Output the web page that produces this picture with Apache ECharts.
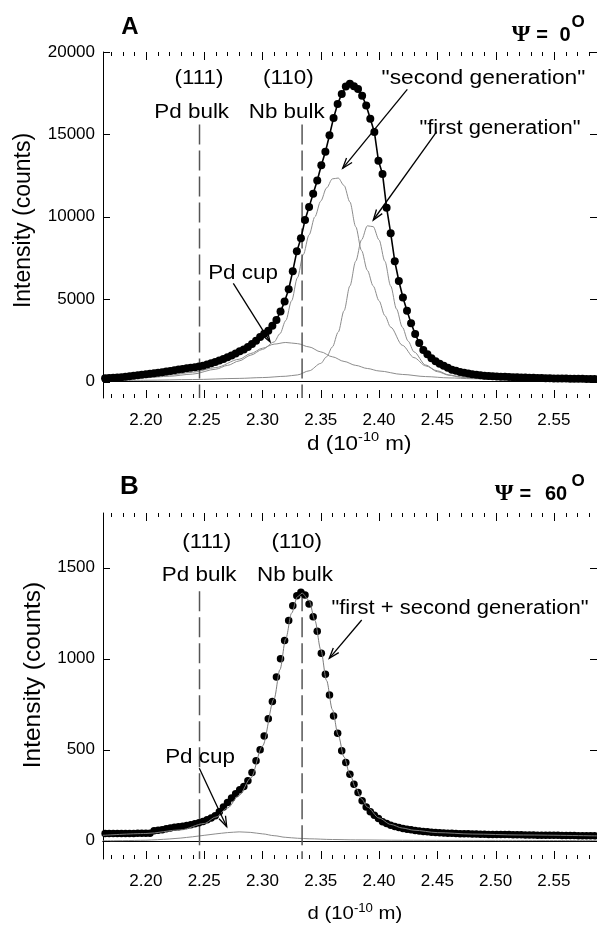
<!DOCTYPE html>
<html><head><meta charset="utf-8">
<script src="https://cdn.jsdelivr.net/npm/echarts@6/dist/echarts.min.js"></script>
<style>html,body{margin:0;padding:0;background:#fff}#c{width:597px;height:925px}</style>
</head><body><div id="c"></div>
<script>
// ---------------- data ----------------
const dGrid = [2.165,2.1685,2.172,2.1755,2.179,2.1825,2.186,2.1895,2.193,2.1965,
2.2,2.2035,2.207,2.2105,2.214,2.2175,2.221,2.2245,2.228,2.2315,
2.235,2.2385,2.242,2.2455,2.249,2.2525,2.256,2.2595,2.263,2.2665,
2.27,2.2735,2.277,2.2805,2.284,2.2875,2.291,2.2945,2.298,2.3015,
2.305,2.3085,2.312,2.3155,2.319,2.3225,2.326,2.3295,2.333,2.3365,
2.34,2.3435,2.347,2.3505,2.354,2.3575,2.361,2.3645,2.368,2.3715,
2.375,2.3785,2.382,2.3855,2.389,2.3925,2.396,2.3995,2.403,2.4065,
2.41,2.4135,2.417,2.4205,2.424,2.4275,2.431,2.4345,2.438,2.4415,
2.445,2.4485,2.452,2.4555,2.459,2.4625,2.466,2.4695,2.473,2.4765,
2.48,2.4835,2.487,2.4905,2.494,2.4975,2.501,2.5045,2.508,2.5115,
2.515,2.5185,2.522,2.5255,2.529,2.5325,2.536,2.5395,2.543,2.5465,
2.55,2.5535,2.557,2.5605,2.564,2.5675,2.571,2.5745,2.578,2.5815,2.585];

const intensityTop = [200,210,225,240,260,285,315,345,380,415,
445,467,500,535,570,606,645,690,725,765,
800,835,870,905,960,1030,1110,1190,1280,1370,
1480,1580,1700,1830,1950,2100,2270,2480,2700,2900,
3080,3380,3740,4250,4850,5600,6700,7900,8700,9800,
10600,11400,12200,13130,13940,14950,16000,16850,17450,17900,
18080,17920,17750,17350,16750,15950,15150,13400,12600,10550,
9000,7300,6100,5100,4300,3540,2890,2340,1920,1660,
1420,1230,1080,960,830,720,650,580,530,480,
440,410,380,355,335,320,305,295,285,275,
265,255,245,238,230,222,215,208,202,196,
190,185,180,176,172,168,165,162,158,155,152];

const intensityBottom = [40,40,40,40,40,40,40,40,41,41,
41,42,55,58,61,66,70,74,77,80,
84,88,93,99,106,115,125,137,160,185,
210,235,258,280,298,330,375,440,500,575,
670,765,900,1000,1100,1210,1290,1345,1365,1350,
1300,1230,1150,1030,915,800,685,590,495,430,
365,310,265,220,186,160,140,122,105,95,
86,79,73,68,64,60,57,54,51,49,
47,45,44,43,42,41,40,39,38,38,
37,37,36,36,35,35,35,34,34,34,
33,33,33,32,32,32,31,31,31,30,
30,30,29,29,29,29,28,28,28,28,27];

// fitted components, panel A (Psi = 0)
const pdCupTopD = [2.163,2.18,2.20,2.22,2.24,2.26,2.28,2.29,2.30,2.31,2.32,2.33,2.34,2.35,2.36,2.37,2.38,2.39,2.40,2.42,2.44,2.46,2.48,2.50,2.54,2.587];
const pdCupTopI = [190,230,290,390,560,850,1350,1700,2020,2270,2370,2300,2100,1800,1500,1220,980,790,640,430,300,220,170,140,110,90];

const secondGenD = [2.163,2.20,2.22,2.24,2.26,2.27,2.28,2.29,2.30,2.31,2.315,2.32,2.325,2.33,2.335,2.34,2.345,2.35,2.355,2.36,2.365,2.37,2.375,2.38,2.385,2.39,2.395,2.40,2.405,2.41,2.42,2.43,2.44,2.45,2.46,2.47,2.48,2.50,2.53,2.587];
const secondGenI = [150,230,320,450,750,980,1250,1600,1950,2400,2900,3700,4900,6300,7700,8900,10000,10950,11750,12300,12350,11900,10900,9400,7950,6750,5800,4900,4000,3300,2200,1450,950,650,400,290,230,160,120,90];

const firstGenD = [2.163,2.20,2.24,2.28,2.30,2.32,2.33,2.34,2.35,2.355,2.36,2.365,2.37,2.375,2.38,2.385,2.39,2.395,2.40,2.405,2.41,2.415,2.42,2.425,2.43,2.44,2.45,2.46,2.47,2.48,2.50,2.53,2.587];
const firstGenI = [60,80,120,190,240,320,400,650,1100,1500,2100,3000,4300,5800,7300,8600,9450,9400,8600,7300,5800,4400,3300,2450,1800,1000,600,380,260,200,140,110,90];

// fitted components, panel B (Psi = 60)
const fitBottomD = [2.163,2.20,2.23,2.25,2.26,2.27,2.28,2.29,2.30,2.31,2.315,2.32,2.325,2.33,2.334,2.34,2.345,2.35,2.355,2.36,2.365,2.37,2.375,2.38,2.385,2.39,2.40,2.41,2.42,2.43,2.45,2.48,2.52,2.587];
const fitBottomI = [30,40,60,95,130,180,250,345,520,780,940,1110,1250,1340,1360,1320,1210,1050,880,720,580,460,365,290,230,185,125,90,70,58,45,37,32,27];

const pdCupBottomD = [2.163,2.18,2.20,2.21,2.22,2.23,2.24,2.25,2.26,2.27,2.28,2.29,2.30,2.31,2.32,2.33,2.34,2.36,2.38,2.42,2.50,2.587];
const pdCupBottomI = [0,1,3,6,10,15,22,30,38,45,49,46,38,28,19,14,11,7,5,3,2,1];

// reference d-spacings (dashed lines)
const pdBulkD = 2.246;
const nbBulkD = 2.334;
const refTopFrom = 15600, refTopTo = -1000;
const refBotFrom = 1370, refBotTo = -100;

// ticks and tick labels
const xMajorTicks = [2.20,2.25,2.30,2.35,2.40,2.45,2.50,2.55];
const xMinorTicks = [2.17,2.18,2.19,2.21,2.22,2.23,2.24,2.26,2.27,2.28,2.29,2.31,2.32,2.33,2.34,2.36,2.37,2.38,2.39,2.41,2.42,2.43,2.44,2.46,2.47,2.48,2.49,2.51,2.52,2.53,2.54,2.56,2.57,2.58];
const yTicksTop = [0,5000,10000,15000,20000];
const yTicksBottom = [0,500,1000,1500];

// ---------------- chart ----------------
const SANS = '"Liberation Sans", Arial, Helvetica, sans-serif';
const SERIF = '"Liberation Serif", "Times New Roman", serif';
const X_MIN = 2.1632, X_MAX = 2.587;
const zip = (d, v) => d.map((x, i) => [x, v[i]]);

function xAxesFor(gi) {
  const base = {type:'value', gridIndex:gi, min:X_MIN, max:X_MAX, splitLine:{show:false}, scale:true, axisTick:{show:false}};
  const line = {show:true, lineStyle:{color:'#000', width:1}};
  return [
    Object.assign({}, base, {position:'bottom', axisLine:line,
      axisLabel:{show:true, customValues:xMajorTicks, formatter:v => Number(v).toFixed(2), fontSize:17, fontFamily:SANS, color:'#000', margin:14}}),
    Object.assign({}, base, {position:'top', axisLine:line, axisLabel:{show:false}})
  ];
}
function yAxesFor(gi, min, max, ticks) {
  const line = {show:true, lineStyle:{color:'#000', width:1}};
  return [
    {type:'value', gridIndex:gi, min, max, position:'left', splitLine:{show:false}, axisLine:line, axisTick:{show:false},
     axisLabel:{show:true, customValues:ticks, formatter:v => String(v), fontSize:17, fontFamily:SANS, color:'#000', margin:8}},
    {type:'value', gridIndex:gi, min, max, position:'right', splitLine:{show:false}, axisLine:line, axisTick:{show:false},
     axisLabel:{show:false}}
  ];
}
function curve(xi, yi, d, v, color, width, z) {
  return {type:'line', xAxisIndex:xi, yAxisIndex:yi, data:zip(d, v), symbol:'none', smooth:0.3, smoothMonotone:'x',
          lineStyle:{color, width}, z, silent:true};
}
function refLine(xi, yi, d, from, to) {
  return {type:'line', xAxisIndex:xi, yAxisIndex:yi, data:[[d, from],[d, to]], symbol:'none',
          lineStyle:{color:'#555', width:1.5, type:[20,6]}, z:3, silent:true};
}

// text helpers
function T(x, y, text, size, o) {
  o = o || {};
  const al = o.align || 'center';
  const font = (o.bold ? 'bold ' : '') + size + 'px ' + (o.family || SANS);
  return {type:'text', x, y, scaleX:o.sx || 1, rotation:o.rot || 0, z:100,
    style:{text, fill:'#000', font, textAlign:al, textVerticalAlign:'middle', align:al, verticalAlign:'middle'}};
}
const mctx = document.createElement('canvas').getContext('2d');
function tw(text, font) { mctx.font = font; return mctx.measureText(text).width; }
function supTitle(x, y, size, supSize, dy, sx) {
  const f1 = size + 'px ' + SANS, f2 = supSize + 'px ' + SANS;
  const a = 'd (10', b = '-10', c = ' m)';
  const w1 = tw(a, f1), w2 = tw(b, f2);
  const st = (text, font) => ({text, font, fill:'#000', textAlign:'left', textVerticalAlign:'middle', align:'left', verticalAlign:'middle'});
  return {type:'group', x, y, scaleX:sx, z:100, children:[
    {type:'text', x:0, y:0, style:st(a, f1)},
    {type:'text', x:w1, y:dy, style:st(b, f2)},
    {type:'text', x:w1 + w2, y:0, style:st(c, f1)}
  ]};
}
function arrow(x1, y1, x2, y2) {
  const a = Math.atan2(y2 - y1, x2 - x1), L = 11, w = 0.33;
  const p1 = [x2 - L * Math.cos(a - w), y2 - L * Math.sin(a - w)];
  const p2 = [x2 - L * Math.cos(a + w), y2 - L * Math.sin(a + w)];
  return [
    {type:'line', z:100, shape:{x1, y1, x2, y2}, style:{stroke:'#000', lineWidth:1.3}},
    {type:'polyline', z:100, shape:{points:[p1, [x2, y2], p2]}, style:{stroke:'#000', fill:null, lineWidth:1.3}}
  ];
}

const chart = echarts.init(document.getElementById('c'), null, {renderer:'canvas', width:597, height:925});

const GRAY = '#8c8c8c';
const texts = [].concat(
  [
    T(130, 27.3, 'A', 24, {bold:true}),
    T(129.5, 487, 'B', 26, {bold:true}),
    T(521, 34.5, 'Ψ', 24, {bold:true, family:SERIF}),
    T(542, 35.7, '=', 20, {bold:true}),
    T(565, 35.7, '0', 20, {bold:true}),
    T(578, 22, 'O', 17, {bold:true}),
    T(504, 494, 'Ψ', 24, {bold:true, family:SERIF}),
    T(525.3, 494.7, '=', 20, {bold:true}),
    T(556, 494.7, '60', 20, {bold:true}),
    T(578, 481, 'O', 17, {bold:true}),
    T(199, 78, '(111)', 20, {sx:1.12}),
    T(191.7, 112, 'Pd bulk', 20, {sx:1.12}),
    T(288.3, 78, '(110)', 20, {sx:1.12}),
    T(286.7, 112, 'Nb bulk', 20, {sx:1.12}),
    T(483.5, 78, '"second generation"', 20, {sx:1.14}),
    T(500, 128, '"first generation"', 20, {sx:1.1}),
    T(243, 273, 'Pd cup', 20, {sx:1.12}),
    T(206.7, 542, '(111)', 20, {sx:1.12}),
    T(199.2, 575, 'Pd bulk', 20, {sx:1.12}),
    T(296.7, 542, '(110)', 20, {sx:1.12}),
    T(295, 575, 'Nb bulk', 20, {sx:1.12}),
    T(460, 608, '"first + second generation"', 20, {sx:1.1}),
    T(200, 757, 'Pd cup', 20, {sx:1.12}),
    T(24, 220.5, 'Intensity (counts)', 23, {rot:Math.PI / 2}),
    T(33, 675, 'Intensity (counts)', 24.5, {rot:Math.PI / 2}),
    supTitle(307, 444.5, 20, 13, -7.3, 1.12),
    supTitle(307.5, 914.3, 18.5, 12, -5.3, 1.1)
  ],
  arrow(407.3, 89.3, 342.7, 168.3),
  arrow(436.7, 131.7, 373.3, 220),
  arrow(233.3, 283.3, 270, 341.7),
  arrow(361.7, 620, 329.3, 658.3),
  arrow(199.3, 768.3, 226.7, 826.7)
);

const option = {
  animation:false,
  backgroundColor:'#fff',
  grid:[{left:103, top:52, width:495, height:346}, {left:103, top:513, width:495, height:346}],
  xAxis:[].concat(xAxesFor(0), xAxesFor(1)),
  yAxis:[].concat(yAxesFor(0, -1000, 20000, yTicksTop), yAxesFor(1, -100, 1800, yTicksBottom)),
  series:[
    curve(0, 0, pdCupTopD, pdCupTopI, GRAY, 1, 2),
    curve(0, 0, secondGenD, secondGenI, GRAY, 1, 2),
    curve(0, 0, firstGenD, firstGenI, GRAY, 1, 2),
    refLine(0, 0, pdBulkD, refTopFrom, refTopTo),
    refLine(0, 0, nbBulkD, refTopFrom, refTopTo),
    {type:'line', xAxisIndex:0, yAxisIndex:0, data:zip(dGrid, intensityTop), symbol:'circle', symbolSize:8,
     showSymbol:true, showAllSymbol:true, itemStyle:{color:'#000', opacity:1}, lineStyle:{color:'#000', width:1.6}, z:5, silent:true},

    curve(2, 2, pdCupBottomD, pdCupBottomI, GRAY, 1, 2),
    refLine(2, 2, pdBulkD, refBotFrom, refBotTo),
    refLine(2, 2, nbBulkD, refBotFrom, refBotTo),
    {type:'scatter', xAxisIndex:2, yAxisIndex:2, data:zip(dGrid, intensityBottom), symbol:'circle', symbolSize:7.5,
     itemStyle:{color:'#000', opacity:1}, z:5, silent:true},
    curve(2, 2, fitBottomD, fitBottomI, '#7a7a7a', 1, 6)
  ],
  graphic:{elements:texts}
};
chart.setOption(option);

// inward tick marks on all four sides, positioned through the axes' own scales
const tickEls = [];
function seg(x1, y1, x2, y2) {
  return {type:'line', z:50, shape:{x1, y1, x2, y2}, style:{stroke:'#000', lineWidth:1}};
}
function panelTicks(xi, yi, yMin, yMax, yTicks) {
  const yb = chart.convertToPixel({yAxisIndex:yi}, yMin);
  const yt = chart.convertToPixel({yAxisIndex:yi}, yMax);
  const xl = chart.convertToPixel({xAxisIndex:xi}, X_MIN);
  const xr = chart.convertToPixel({xAxisIndex:xi}, X_MAX);
  const add = (vals, len) => vals.forEach(v => {
    const px = Math.round(chart.convertToPixel({xAxisIndex:xi}, v)) + 0.5;
    tickEls.push(seg(px, yb, px, yb - len));
    tickEls.push(seg(px, yt, px, yt + len));
  });
  add(xMajorTicks, 8);
  add(xMinorTicks, 4);
  yTicks.forEach(v => {
    const py = Math.round(chart.convertToPixel({yAxisIndex:yi}, v)) + 0.5;
    tickEls.push(seg(xl, py, xl + 7, py));
    tickEls.push(seg(xr, py, xr - 7, py));
  });
}
panelTicks(0, 0, -1000, 20000, yTicksTop);
panelTicks(2, 2, -100, 1800, yTicksBottom);
chart.setOption({graphic:{elements:texts.concat(tickEls)}});
</script>
</body></html>
